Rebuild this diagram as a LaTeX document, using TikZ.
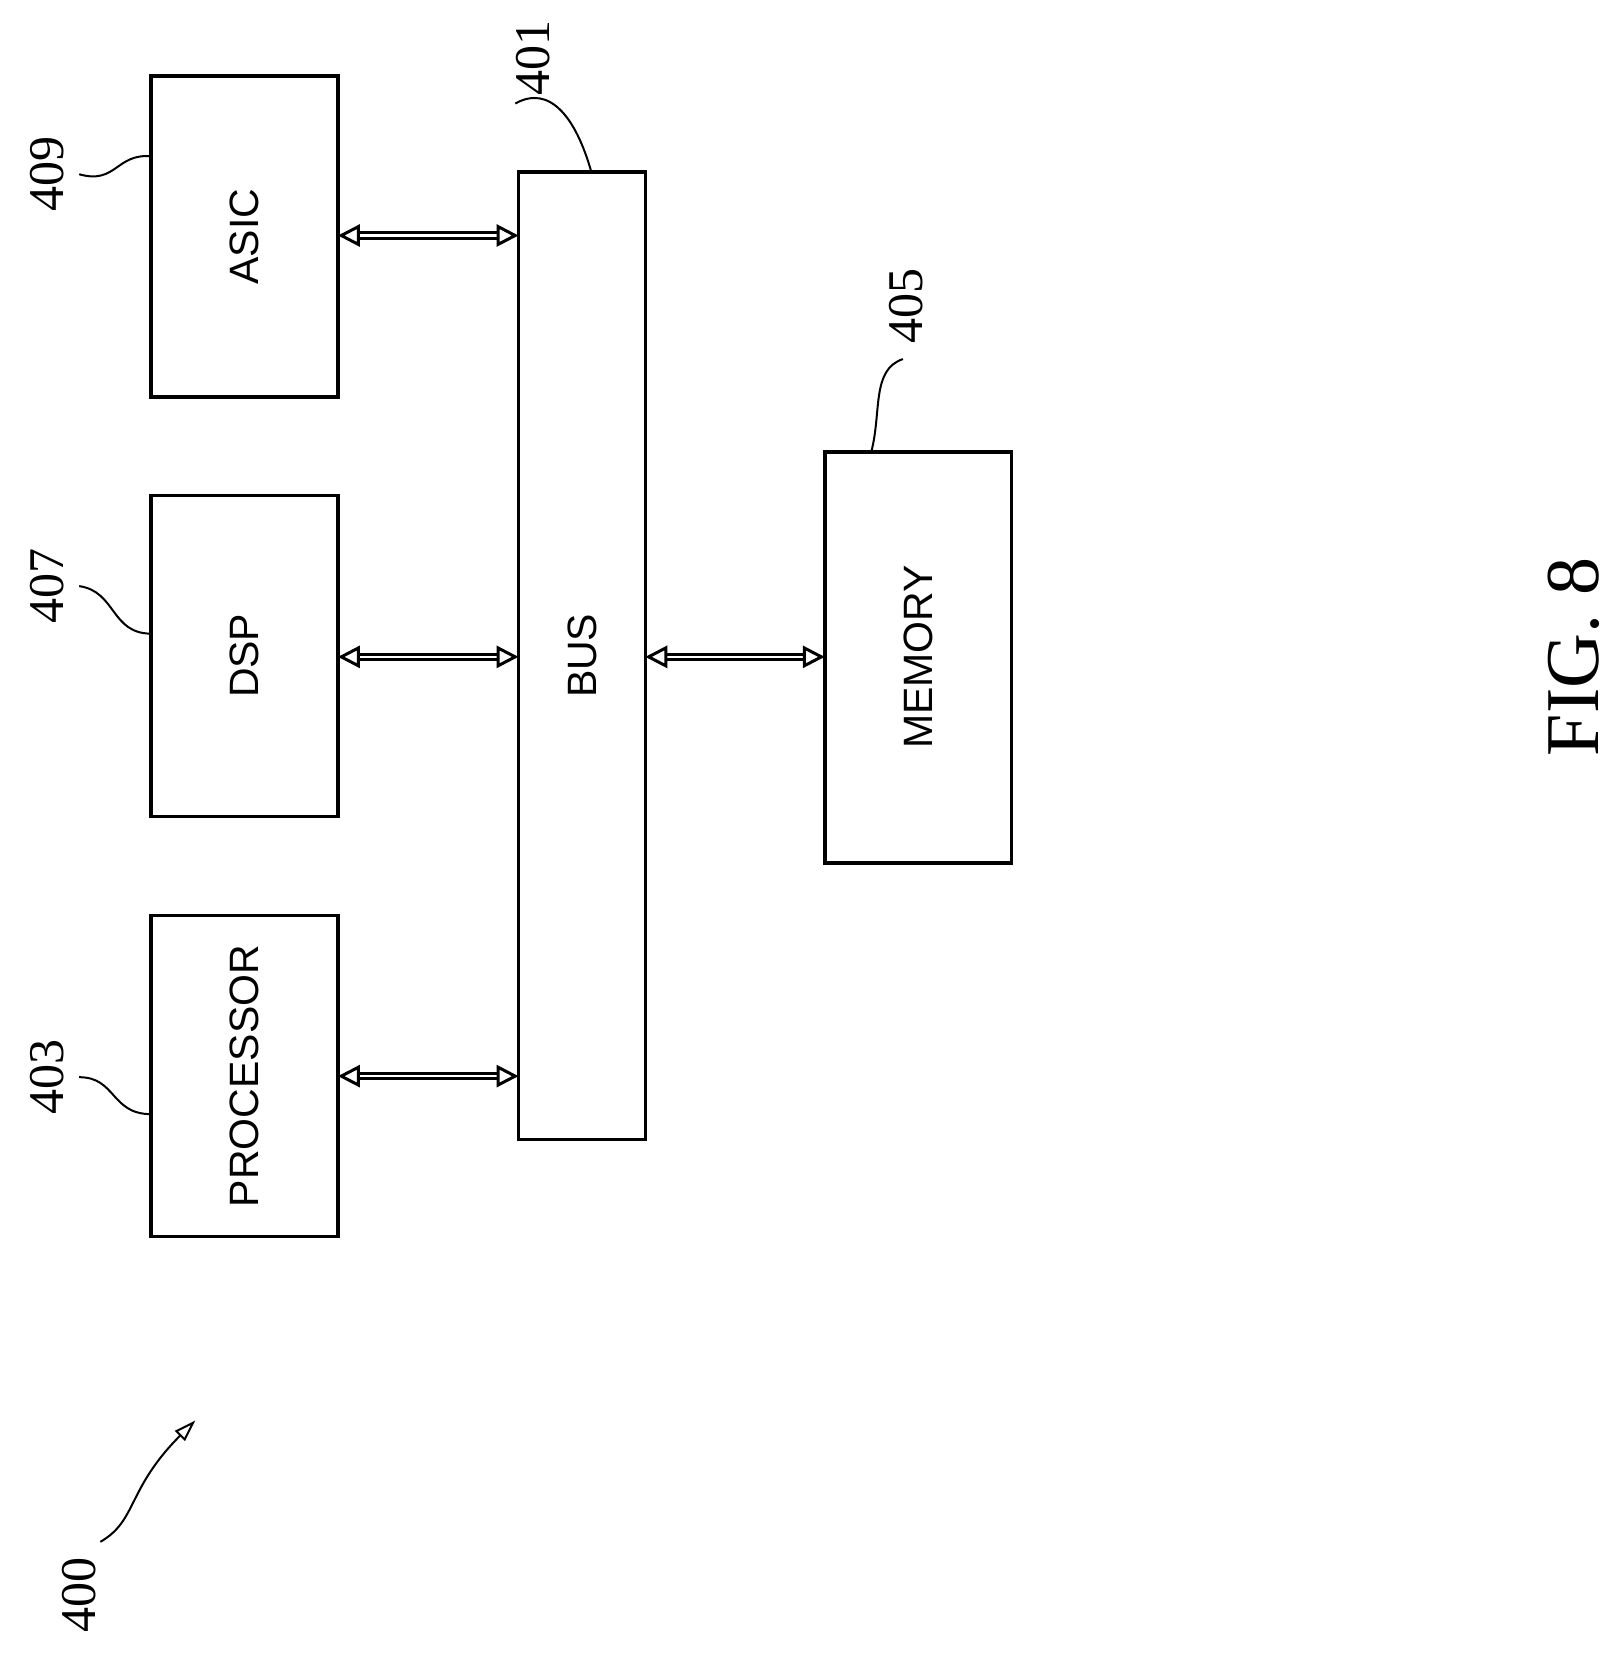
\documentclass[tikz,border=0pt]{standalone}
\usepackage{fontspec}
\setmainfont{Liberation Serif}
\setsansfont{Liberation Sans}
\usetikzlibrary{arrows.meta}
\begin{document}
\begin{tikzpicture}[x=1.056pt,y=-1.056pt,
  box/.style={draw,line width=3.5pt,inner sep=0pt},
  lbl/.style={font=\sffamily\fontsize{41}{41}\selectfont,rotate=90},
  num/.style={font=\fontsize{50}{50}\selectfont,rotate=90},
  lead/.style={line width=2pt},
  conn/.style={line width=3pt,double distance=2.5pt,{Triangle[open,length=22pt,width=22pt]}-{Triangle[open,length=22pt,width=22pt]}}]
\useasboundingbox (0,0) rectangle (1527,1570);
\draw[box] (143,72) rectangle (320,376); \node[lbl] (asic) at (231.5,224) {ASIC};
\draw[box] (143,469) rectangle (320,773); \node[lbl] (dsp) at (231.5,621) {DSP};
\draw[box] (143,867) rectangle (320,1171); \node[lbl] (proc) at (231.5,1019) {PROCESSOR};
\draw[box] (491,163) rectangle (611,1079); \node[lbl] (bus) at (551,621) {BUS};
\draw[box] (781,428) rectangle (958,817); \node[lbl] (mem) at (869.5,622) {MEMORY};
\coordinate (a1) at (320,223); \coordinate (a2) at (491,223);
\coordinate (d1) at (320,622); \coordinate (d2) at (491,622);
\coordinate (p1) at (320,1019); \coordinate (p2) at (491,1019);
\coordinate (m1) at (611,622); \coordinate (m2) at (781,622);
\draw[conn] (a1) -- (a2);
\draw[conn] (d1) -- (d2);
\draw[conn] (p1) -- (p2);
\draw[conn] (m1) -- (m2);
\node[num] (n409) at (45,165) {409};
\draw[lead] (75,165) .. controls (110,175) and (110,145) .. (143,148);
\node[num] (n407) at (45,555) {407};
\draw[lead] (75,555) .. controls (110,560) and (105,600) .. (143,600);
\node[num] (n403) at (45,1020) {403};
\draw[lead] (75,1020) .. controls (110,1020) and (105,1055) .. (143,1055);
\node[num] (n401) at (505,55) {401};
\draw[lead] (488,98) .. controls (520,80) and (545,110) .. (560,163);
\node[num] (n405) at (858,290) {405};
\draw[lead] (855,340) .. controls (825,350) and (835,390) .. (825,428);
\node[num] (n400) at (75,1510) {400};
\draw[lead,-{Triangle[open,length=22pt,width=14pt]}] (95,1460) .. controls (130,1440) and (120,1410) .. (185,1345);
\node[rotate=90,font=\fontsize{76}{76}\selectfont] (fig) at (1490,622) {FIG. 8};
\end{tikzpicture}
\end{document}
